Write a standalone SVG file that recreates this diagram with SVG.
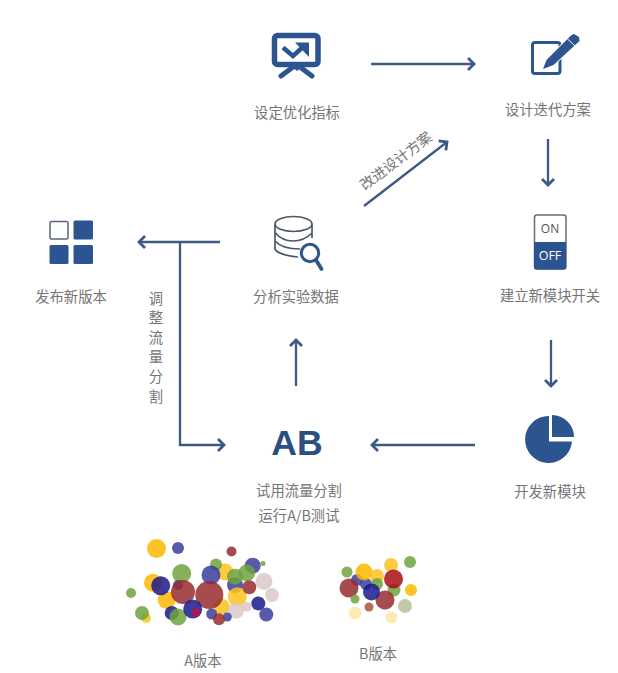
<svg xmlns="http://www.w3.org/2000/svg" width="618" height="673" viewBox="0 0 618 673">
<style>
.t{font-family:"Noto Sans CJK SC","Noto Sans",sans-serif;font-size:14.300px;fill:#757575;text-anchor:middle}
.c{fill:none;stroke:#3c5a84;stroke-width:2.300}
.i{fill:#2c5491}
.o{fill:none;stroke:#2c5491}
.m circle{opacity:.85}
</style>
<defs>
<marker id="a" markerUnits="userSpaceOnUse" markerWidth="16" markerHeight="18" refX="13" refY="9" orient="auto">
<path d="M7 3L13 9L7 15" fill="none" stroke="#3c5a84" stroke-width="2.800"/>
</marker>
</defs>
<rect width="618" height="673" fill="#fff"/>
<g id="connectors">
<path class="c" marker-end="url(#a)" d="M371 64H474"/>
<path class="c" marker-end="url(#a)" d="M548 139V185"/>
<path class="c" marker-end="url(#a)" d="M551 340V386"/>
<path class="c" marker-end="url(#a)" d="M475 445H372"/>
<path class="c" marker-end="url(#a)" d="M296 386V340"/>
<path class="c" marker-end="url(#a)" d="M364 206L447 142"/>
<path class="c" marker-end="url(#a)" d="M220 242H139"/>
<path class="c" marker-end="url(#a)" d="M180 242V445H224"/>
<text class="t" transform="translate(396 161) rotate(-37)" y="5">改进设计方案</text>
<text class="t" x="156" y="304">调</text>
<text class="t" x="156" y="323">整</text>
<text class="t" x="156" y="343">流</text>
<text class="t" x="156" y="362">量</text>
<text class="t" x="156" y="382">分</text>
<text class="t" x="156" y="402">割</text>
</g>
<g id="node-metric">
<rect x="274.500" y="35.500" width="43.500" height="29" rx="3" fill="#fff" stroke="#2c5491" stroke-width="5.500"/>
<path class="o" stroke-width="5" stroke-linecap="round" d="M293 67L281 76M300 67L312 76"/>
<path class="i" d="M289 65H304L297 71Z"/>
<path class="o" stroke-width="4.500" d="M283 47.500L293 56L304 46"/>
<path class="i" d="M295 42.500H309V57Z"/>
<text class="t" x="297" y="118">设定优化指标</text>
</g>
<g id="node-design">
<rect x="532.500" y="42.500" width="27.500" height="31" rx="2.500" fill="none" stroke="#2c5491" stroke-width="3"/>
<path d="M543 69L546.500 60L571.500 35L574 34L579 37L579.500 41L553.500 65Z" fill="#2c5491" stroke="#fff" stroke-width="2" paint-order="stroke"/>
<path d="M567.500 39L575 46" stroke="#fff" stroke-width="1"/>
<text class="t" x="548" y="115">设计迭代方案</text>
</g>
<g id="node-switch">
<rect x="534.500" y="215" width="31.500" height="54" rx="2.500" fill="#fff" stroke="#666c78" stroke-width="1.500"/>
<path class="i" d="M534 242H566V267Q566 269.500 563.500 269.500H536.500Q534 269.500 534 267Z"/>
<text x="550" y="233" text-anchor="middle" font-family="'Open Sans',sans-serif" font-size="12" fill="#555">ON</text>
<text x="550" y="260" text-anchor="middle" font-family="'Open Sans',sans-serif" font-size="12.500" fill="#fff">OFF</text>
<text class="t" x="550" y="301">建立新模块开关</text>
</g>
<g id="node-analysis">
<g fill="none" stroke="#4c5768" stroke-width="1.700">
<ellipse cx="293.500" cy="224" rx="18.500" ry="7.500"/>
<path d="M275 224V249Q278 255 298 257M312 224V238M275 232.500Q282 241 293 241Q304 241 312 233M275 241Q282 249 300 249"/>
</g>
<circle cx="310" cy="253" r="8.700" fill="#fff" stroke="#2f5687" stroke-width="3"/>
<path d="M316 260L321.500 269" stroke="#2f5687" stroke-width="3.800" stroke-linecap="round"/>
<text class="t" x="296" y="302">分析实验数据</text>
</g>
<g id="node-release">
<rect x="50" y="221.500" width="18" height="17.500" rx="1.500" fill="#fff" stroke="#5b6478" stroke-width="1.500"/>
<rect class="i" x="73.500" y="220.500" width="19.500" height="19" rx="1.500"/>
<rect class="i" x="49.500" y="245" width="19" height="19" rx="1.500"/>
<rect class="i" x="73.500" y="245" width="19.500" height="19" rx="1.500"/>
<text class="t" x="71" y="302">发布新版本</text>
</g>
<g id="node-pie">
<path class="i" d="M549 416A23.500 23.500 0 1 0 572 441.500H549Z"/>
<path class="i" d="M552 415A22 22 0 0 1 574 437H552Z"/>
<text class="t" x="550" y="497">开发新模块</text>
</g>
<g id="node-ab">
<text x="297" y="455" text-anchor="middle" font-family="'Liberation Sans',sans-serif" font-weight="700" font-size="35.500" fill="#2c4f82">AB</text>
<text class="t" x="299" y="496">试用流量分割</text>
<text class="t" x="299" y="521">运行A/B测试</text>
</g>
<g id="version-a" class="m">
<circle cx="156.500" cy="548.500" r="9.500" fill="#fdb900"/>
<circle cx="178" cy="548" r="6" fill="#3b3d9e"/>
<circle cx="231.500" cy="551.500" r="5" fill="#962b2f"/>
<circle cx="225" cy="572" r="8.500" fill="#fdc21e"/>
<circle cx="216" cy="564.500" r="6" fill="#6fa33c"/>
<circle cx="263" cy="563.500" r="2.500" fill="#6fa33c"/>
<circle cx="252.700" cy="565.700" r="8" fill="#3b3d9e"/>
<circle cx="153" cy="582.700" r="9" fill="#fdb900"/>
<circle cx="131" cy="593" r="5" fill="#6fa33c"/>
<circle cx="264" cy="581.500" r="8.500" fill="#dcc8c8"/>
<circle cx="272" cy="595" r="7" fill="#dcc8c8"/>
<circle cx="166.700" cy="600" r="9" fill="#fdb900"/>
<circle cx="181.700" cy="573.500" r="9.500" fill="#6fa33c"/>
<circle cx="178" cy="585" r="5" fill="#3b3d9e"/>
<circle cx="235" cy="585" r="8" fill="#3b3d9e"/>
<circle cx="235" cy="576.700" r="8" fill="#6fa33c"/>
<circle cx="246.700" cy="573" r="8.500" fill="#6fa33c"/>
<circle cx="237.300" cy="596.700" r="9.500" fill="#fdc21e"/>
<circle cx="249.300" cy="587.300" r="7" fill="#962b2f"/>
<circle cx="183" cy="592" r="12" fill="#962b2f"/>
<circle cx="160.700" cy="585.700" r="9.500" fill="#1a1a8c"/>
<circle cx="211" cy="575" r="9.500" fill="#3b3d9e"/>
<circle cx="221.700" cy="606.700" r="8" fill="#fdc21e"/>
<circle cx="209.300" cy="595" r="14" fill="#962b2f"/>
<circle cx="258.300" cy="603.500" r="7" fill="#1a1a8c"/>
<circle cx="266.300" cy="614.500" r="7" fill="#3b3d9e"/>
<circle cx="236" cy="610.700" r="8" fill="#dcc8c8"/>
<circle cx="246.700" cy="606.700" r="5" fill="#dcc8c8"/>
<circle cx="146" cy="618" r="5" fill="#fdc21e"/>
<circle cx="142" cy="613" r="7" fill="#6fa33c"/>
<circle cx="171.700" cy="613" r="7" fill="#1a1a8c"/>
<circle cx="178" cy="617" r="8.500" fill="#6fa33c"/>
<circle cx="192.700" cy="609" r="9.500" fill="#1a1a8c"/>
<circle cx="211.700" cy="614" r="5.500" fill="#3b3d9e"/>
<circle cx="227.300" cy="617" r="4.500" fill="#3b3d9e"/>
<circle cx="219" cy="619.300" r="6" fill="#962b2f"/>
<circle cx="196" cy="612.700" r="4.500" fill="#b0184a"/>
</g>
<g id="version-b" class="m">
<circle cx="410" cy="562" r="6" fill="#6fa33c"/>
<circle cx="391" cy="565" r="7" fill="#fdc21e"/>
<circle cx="347" cy="572" r="5.500" fill="#6fa33c"/>
<circle cx="357" cy="580" r="6" fill="#3b3d9e"/>
<circle cx="366" cy="584" r="6" fill="#3b3d9e"/>
<circle cx="364" cy="572" r="8.500" fill="#fdb900"/>
<circle cx="377" cy="576" r="7" fill="#fdc21e"/>
<circle cx="377" cy="584" r="6" fill="#6fa33c"/>
<circle cx="394" cy="590" r="6.500" fill="#6fa33c"/>
<circle cx="393.500" cy="579" r="9.500" fill="#a80f15"/>
<circle cx="349" cy="588" r="9.500" fill="#962b2f"/>
<circle cx="411" cy="590" r="6" fill="#fdb900"/>
<circle cx="355" cy="599" r="4.500" fill="#6fa33c"/>
<circle cx="385" cy="600" r="9.500" fill="#962b2f"/>
<circle cx="371.500" cy="592" r="8.500" fill="#1a1a8c"/>
<circle cx="405" cy="606" r="7" fill="#b5c39a"/>
<circle cx="369" cy="607" r="4.500" fill="#a8543a"/>
<circle cx="355" cy="613" r="6.500" fill="#fbe7a8"/>
<circle cx="391.500" cy="617.500" r="6" fill="#fbe7a8"/>
</g>
<text class="t" x="203" y="666">A版本</text>
<text class="t" x="378" y="659">B版本</text>
</svg>
